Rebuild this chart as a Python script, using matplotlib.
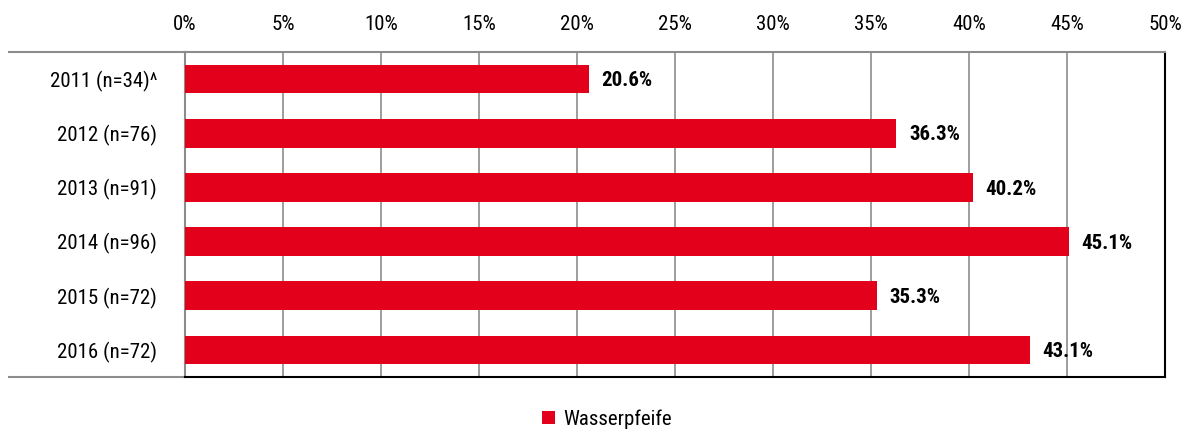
import matplotlib.pyplot as plt
from matplotlib.lines import Line2D
from matplotlib import font_manager

# prefer a condensed font if one is installed
installed = {f.name for f in font_manager.fontManager.ttflist}
fams = [f for f in ['Liberation Sans Narrow', 'Arial Narrow', 'Roboto Condensed', 'Open Sans Condensed']
        if f in installed]
narrow = len(fams) > 0
plt.rcParams['font.family'] = fams + ['Liberation Sans', 'DejaVu Sans']

# data
labels = ['2011 (n=34)^', '2012 (n=76)', '2013 (n=91)', '2014 (n=96)', '2015 (n=72)', '2016 (n=72)']
values = [20.6, 36.3, 40.2, 45.1, 35.3, 43.1]
series_name = 'Wasserpfeife'
ticks = [0, 5, 10, 15, 20, 25, 30, 35, 40, 45, 50]

red = '#E2001A'
fs = 15 if narrow else 14

fig = plt.figure(figsize=(11.94, 4.32), dpi=100)
ax = fig.add_axes([185/1194, 1-377/432, 980/1194, 325/432])

ypos = list(range(len(labels)))
ax.barh(ypos, values, height=0.53, color=red, zorder=3, label=series_name)
ax.set_ylim(len(labels)-0.5, -0.5)
ax.set_xlim(0, 50)
ax.set_yticks(ypos)
ax.set_yticklabels(labels, fontsize=fs)
ax.set_xticks(ticks)
ax.set_xticklabels([f'{t}%' for t in ticks], fontsize=fs)
ax.xaxis.tick_top()
ax.tick_params(axis='x', length=0, pad=13)
ax.tick_params(axis='y', length=0, pad=20)

ax.grid(axis='x', color='#8c8c8c', linewidth=1.2, zorder=0)

for v, y in zip(values, ypos):
    ax.text(v + 0.65, y + 0.03, f'{v:.1f}%', va='center', ha='left', fontsize=fs,
            fontweight='bold', zorder=4)

ax.spines['top'].set_color('#8c8c8c')
ax.spines['left'].set_color('#8c8c8c')
ax.spines['right'].set_color('black')
ax.spines['bottom'].set_color('black')
for s in ax.spines.values():
    s.set_linewidth(1.5)

# lines extending left of the plot
for yy in (0, 1):
    ax.add_line(Line2D([-0.18, 0], [yy, yy], transform=ax.transAxes, color='#8c8c8c',
                       linewidth=1.5, clip_on=False))

fig.legend(loc='center', bbox_to_anchor=(607/1194, 1-419/432), frameon=False, fontsize=fs,
           handlelength=0.6, handleheight=0.6, handletextpad=0.4)

fig.savefig('out.png', dpi=100)
